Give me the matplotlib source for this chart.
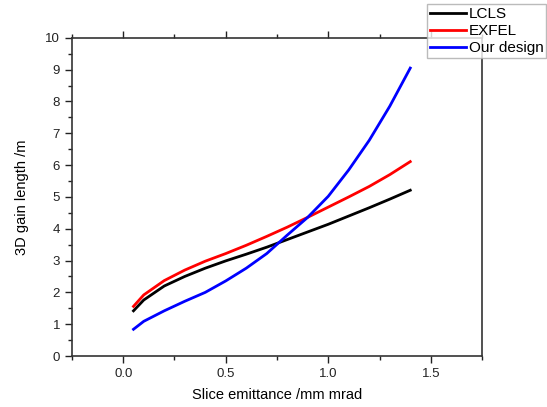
import matplotlib
matplotlib.use("Agg")
import matplotlib.pyplot as plt
from matplotlib.ticker import MultipleLocator, FormatStrFormatter

plt.rcParams['font.family'] = ['Liberation Sans', 'DejaVu Sans']

# Values
emittance = [0.05, 0.1, 0.2, 0.3, 0.4, 0.5, 0.6, 0.7, 0.8, 0.9, 1.0, 1.1, 1.2, 1.3, 1.4]
lcls = [1.42, 1.76, 2.20, 2.50, 2.76, 2.99, 3.20, 3.42, 3.66, 3.90, 4.14, 4.40, 4.66, 4.93, 5.21]
exfel = [1.56, 1.92, 2.37, 2.70, 2.98, 3.22, 3.48, 3.76, 4.05, 4.36, 4.68, 5.00, 5.33, 5.70, 6.11]
ours = [0.84, 1.09, 1.42, 1.72, 2.00, 2.36, 2.76, 3.22, 3.80, 4.36, 5.02, 5.85, 6.78, 7.85, 9.05]

fig = plt.figure(figsize=(5.47, 4.07), dpi=100)
ax = fig.add_axes([0.1316, 0.1253, 0.7496, 0.7817])

ax.plot(emittance, lcls, color='black', lw=2, label='LCLS')
ax.plot(emittance, exfel, color='red', lw=2, label='EXFEL')
ax.plot(emittance, ours, color='blue', lw=2, label='Our design')

ax.set_xlim(-0.25, 1.75)
ax.set_ylim(0, 10)
ax.xaxis.set_major_locator(MultipleLocator(0.5))
ax.xaxis.set_minor_locator(MultipleLocator(0.25))
ax.yaxis.set_major_locator(MultipleLocator(1))
ax.yaxis.set_minor_locator(MultipleLocator(0.5))
ax.xaxis.set_major_formatter(FormatStrFormatter('%.1f'))
ax.tick_params(which='both', direction='out', top=True, right=False,
               labelsize=9.5, colors='#222222')
ax.tick_params(which='major', length=5, width=1)
ax.tick_params(which='minor', length=3, width=1)
for s in ax.spines.values():
    s.set_linewidth(1.2)
    s.set_color('#333333')

ax.set_xlabel('Slice emittance /mm mrad', fontsize=10.5, labelpad=6)
ax.set_ylabel('3D gain length /m', fontsize=10.5, labelpad=12)

leg = ax.legend(loc='upper right', bbox_to_anchor=(0.999, 0.99), bbox_transform=fig.transFigure,
                fontsize=11, frameon=True, fancybox=False, borderpad=0.2,
                handlelength=2.3, handletextpad=0.2, labelspacing=0.2, borderaxespad=0)
leg.get_frame().set_edgecolor('#aaaaaa')
leg.get_frame().set_linewidth(1)

fig.savefig('out.png', dpi=100)
